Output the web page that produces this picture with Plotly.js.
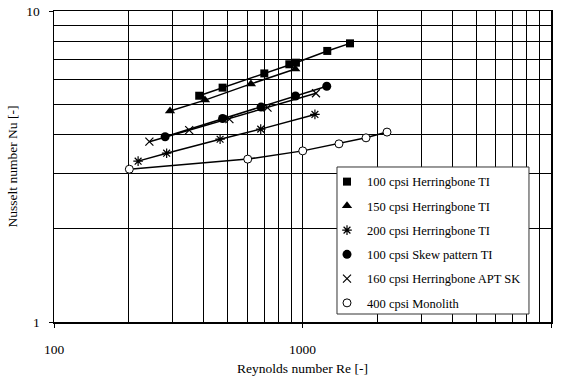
<!DOCTYPE html>
<html>
<head>
<meta charset="utf-8">
<script src="https://cdn.plot.ly/plotly-3.0.1.min.js"></script>
<style>html,body{margin:0;padding:0;background:#fff;}#chart{width:562px;height:381px;}</style>
</head>
<body>
<div id="chart"></div>
<script>
// Nusselt number vs Reynolds number for several catalyst substrates
const seriesNames = [
  '100 cpsi Herringbone TI',
  '150 cpsi Herringbone TI',
  '200 cpsi Herringbone TI',
  '100 cpsi Skew pattern TI',
  '160 cpsi Herringbone APT SK',
  '400 cpsi Monolith'
];

const re100HB = [384, 477, 702, 885, 941, 1258, 1553];
const nu100HB = [5.34, 5.67, 6.30, 6.74, 6.82, 7.44, 7.87];

const re150HB = [293, 405, 620, 935];
const nu150HB = [4.77, 5.17, 5.83, 6.51];

const re200HB = [218, 284, 466, 679, 1122];
const nu200HB = [3.29, 3.49, 3.87, 4.17, 4.65];

const re100Skew = [280, 477, 681, 937, 1252];
const nu100Skew = [3.94, 4.51, 4.91, 5.33, 5.73];

const re160APT = [242, 350, 508, 723, 1133];
const nu160APT = [3.80, 4.14, 4.49, 4.89, 5.44];

const reMonolith = [201, 602, 1002, 1402, 1801, 2188];
const nuMonolith = [3.10, 3.34, 3.55, 3.74, 3.91, 4.08];

const xMajorTicks = [100, 1000, 10000];
const xMajorLabels = ['100', '1000', '10000'];
const xMinorTicks = [200, 300, 400, 500, 600, 700, 800, 900, 2000, 3000, 4000, 5000, 6000, 7000, 8000, 9000];
const yMajorTicks = [1, 10];
const yMajorLabels = ['1', '10'];
const yMinorTicks = [2, 3, 4, 5, 6, 7, 8, 9];

const seriesData = [
  {x: re100HB, y: nu100HB, marker: {symbol: 'square', size: 8, color: '#000'}},
  {x: re150HB, y: nu150HB, marker: {symbol: 'triangle-up', size: 9, color: '#000'}},
  {x: re200HB, y: nu200HB, marker: {symbol: 'asterisk-open', size: 8, color: '#000', line: {color: '#000', width: 1.2}}},
  {x: re100Skew, y: nu100Skew, marker: {symbol: 'circle', size: 9, color: '#000'}},
  {x: re160APT, y: nu160APT, marker: {symbol: 'x-thin-open', size: 8, color: '#000', line: {color: '#000', width: 1.2}}},
  {x: reMonolith, y: nuMonolith, marker: {symbol: 'circle', size: 8, color: '#fff', line: {color: '#000', width: 1}}}
];

const traces = [];
// connecting lines (kept out of the legend so only the symbols show there)
seriesData.forEach(s => {
  traces.push({
    type: 'scatter', mode: 'lines', x: s.x, y: s.y,
    line: {color: '#000', width: 1.5}, showlegend: false, hoverinfo: 'skip'
  });
});
// markers with legend entries
seriesData.forEach((s, i) => {
  traces.push({
    type: 'scatter', mode: 'markers', x: s.x, y: s.y,
    name: seriesNames[i], legendgroup: 'g' + i,
    marker: s.marker
  });
});

const gridColor = '#000';
const layout = {
  width: 562, height: 381,
  margin: {l: 54, r: 11, t: 11, b: 59},
  paper_bgcolor: '#fff', plot_bgcolor: '#fff',
  font: {family: '"Liberation Serif", "Times New Roman", serif', color: '#000', size: 13},
  showlegend: true,
  xaxis: {
    type: 'log', range: [2, 4],
    tickmode: 'array', tickvals: xMajorTicks, ticktext: xMajorLabels,
    ticks: 'outside', ticklen: 4, tickwidth: 1, tickcolor: '#000',
    ticklabelstandoff: 10,
    showline: true, linecolor: '#000', linewidth: 1.5, mirror: true,
    showgrid: true, gridcolor: gridColor, gridwidth: 1,
    minor: {tickmode: 'array', tickvals: xMinorTicks, showgrid: true, gridcolor: gridColor, gridwidth: 1, ticks: ''},
    zeroline: false,
    tickfont: {size: 13.5},
    title: {text: 'Reynolds number Re [-]', font: {size: 13.5}, standoff: 8}
  },
  yaxis: {
    type: 'log', range: [0, 1],
    tickmode: 'array', tickvals: yMajorTicks, ticktext: yMajorLabels,
    ticks: 'outside', ticklen: 4, tickwidth: 1, tickcolor: '#000',
    ticklabelstandoff: 6,
    showline: true, linecolor: '#000', linewidth: 1.5, mirror: true,
    showgrid: true, gridcolor: gridColor, gridwidth: 1,
    minor: {tickmode: 'array', tickvals: yMinorTicks, showgrid: true, gridcolor: gridColor, gridwidth: 1, ticks: ''},
    zeroline: false,
    tickfont: {size: 13.5},
    title: {text: 'Nusselt number Nu [-]', font: {size: 13.5}, standoff: 5}
  },
  // white framed box behind the legend entries
  shapes: [{
    type: 'rect', xref: 'paper', yref: 'paper', layer: 'above',
    x0: 0.5694, x1: 0.9557, y0: 0.0257, y1: 0.4984,
    fillcolor: '#fff', line: {color: '#333', width: 1}
  }],
  legend: {
    x: 0.5493, y: 0.4984, xanchor: 'left', yanchor: 'top',
    bgcolor: 'rgba(0,0,0,0)', borderwidth: 0,
    font: {size: 12.5},
    tracegroupgap: 5,
    itemwidth: 30
  }
};

Plotly.newPlot('chart', traces, layout, {displayModeBar: false, staticPlot: true});
</script>
</body>
</html>
